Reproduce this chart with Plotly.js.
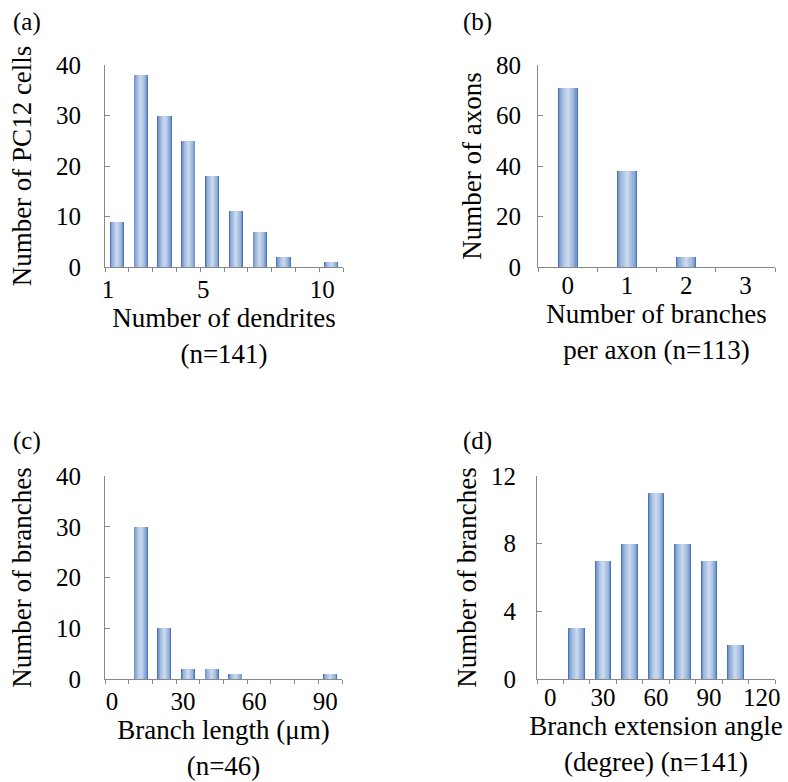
<!DOCTYPE html>
<html>
<head>
<meta charset="utf-8">
<script src="https://cdn.plot.ly/plotly-3.0.1.min.js"></script>
<style>html,body{margin:0;padding:0;background:#fff;}#chart{width:788px;height:782px;}</style>
</head>
<body>
<div id="chart"></div>
<script>
// ---- data ----
const dendrites = [1, 2, 3, 4, 5, 6, 7, 8, 9, 10];
const dendriteCounts = [9, 38, 30, 25, 18, 11, 7, 2, 0, 1];
const dendriteTicks = [1, 5, 10];

const branchesPerAxon = [0, 1, 2, 3];
const axonCounts = [71, 38, 4, 0];

const branchLengthBins = [0, 10, 20, 30, 40, 50, 60, 70, 80, 90];
const branchLengthCounts = [0, 30, 10, 2, 2, 1, 0, 0, 0, 1];
const lengthTicks = [0, 30, 60, 90];

const extensionAngles = [0, 15, 30, 45, 60, 75, 90, 105, 120];
const angleCounts = [0, 3, 7, 8, 11, 8, 7, 2, 0];
const angleTicks = [0, 30, 60, 90, 120];

// ---- styling ----
const FONT = 'Liberation Serif, Times New Roman, serif';
const AXC = '#888888';
const DARK = [72, 118, 186], LIGHT = [200, 216, 238];
const NLAYERS = 9;
const TICK = 25, TITLE = 27;

function layerColor(k) {
  const t = Math.sqrt(k / (NLAYERS - 1));
  const c = DARK.map((d, i) => Math.round(d + (LIGHT[i] - d) * t));
  return 'rgb(' + c.join(',') + ')';
}

const traces = [];
function addBars(xs, ys, xa, ya, binW, frac, leftEdge) {
  for (let k = 0; k < NLAYERS; k++) {
    const w = binW * frac * (1 - k / NLAYERS);
    traces.push({
      type: 'bar', x: xs, y: ys, xaxis: xa, yaxis: ya,
      width: w, offset: leftEdge ? (binW - w) / 2 : -w / 2,
      marker: {color: layerColor(k), line: {width: 0}},
      hoverinfo: 'skip', showlegend: false
    });
  }
}
addBars(dendrites, dendriteCounts, 'x', 'y', 1, 0.6, true);
addBars(branchesPerAxon, axonCounts, 'x2', 'y2', 1, 0.34, false);
addBars(branchLengthBins, branchLengthCounts, 'x3', 'y3', 10, 0.59, true);
addBars(extensionAngles, angleCounts, 'x4', 'y4', 15, 0.62, false);

function xAxis(domain, anchor, range, tickvals, minor0, minorD, majorTicks, title, shift) {
  return {
    domain: domain, anchor: anchor, range: range, fixedrange: true,
    showline: true, linecolor: AXC, linewidth: 1, showgrid: false, zeroline: false,
    tickmode: 'array', tickvals: tickvals, ticktext: tickvals.map(String),
    ticks: majorTicks ? 'outside' : '', ticklen: 4, tickcolor: AXC, tickwidth: 1,
    ticklabelshift: shift || 0, ticklabelstandoff: -4,
    minor: {ticks: 'outside', ticklen: 4, tickcolor: AXC, tickwidth: 1, tickmode: 'linear', tick0: minor0, dtick: minorD, showgrid: false},
    tickfont: {family: FONT, size: TICK, color: '#000'},
    title: {text: title, font: {family: FONT, size: TITLE, color: '#000'}, standoff: 6}
  };
}
function yAxis(domain, anchor, range, dtick, title, labelOff, standoff) {
  return {
    domain: domain, anchor: anchor, range: range, fixedrange: true,
    showline: true, linecolor: AXC, linewidth: 1, showgrid: false, zeroline: false,
    tickmode: 'linear', tick0: 0, dtick: dtick,
    ticks: 'inside', ticklen: 5, tickcolor: AXC, tickwidth: 1,
    ticklabelstandoff: labelOff,
    tickfont: {family: FONT, size: TICK, color: '#000'},
    title: {text: title, font: {family: FONT, size: TITLE, color: '#000'}, standoff: standoff}
  };
}

const W = 788, H = 782;
const topRow = [1 - 267 / H, 1 - 65 / H];
const botRow = [1 - 679 / H, 1 - 476 / H];

const layout = {
  width: W, height: H,
  margin: {l: 0, r: 0, t: 0, b: 0},
  paper_bgcolor: '#fff', plot_bgcolor: '#fff',
  barmode: 'overlay', bargap: 0,
  font: {family: FONT, color: '#000'},
  showlegend: false,
  xaxis: xAxis([105 / W, 343 / W], 'y', [1, 11], dendriteTicks, 1, 1, true, 'Number of dendrites<br>(n=141)', 3),
  yaxis: yAxis(topRow, 'x', [0, 40], 10, 'Number of PC12 cells', 18, 16),
  xaxis2: xAxis([538 / W, 775 / W], 'y2', [-0.5, 3.5], branchesPerAxon, -0.5, 1, false, 'Number of branches<br>per axon (n=113)', 0),
  yaxis2: yAxis(topRow, 'x2', [0, 80], 20, 'Number of axons', 11, 6),
  xaxis3: xAxis([105 / W, 342 / W], 'y3', [0, 100], lengthTicks, 0, 10, true, 'Branch length (μm)<br>(n=46)', 7),
  yaxis3: yAxis(botRow, 'x3', [0, 40], 10, 'Number of branches', 18, 16),
  xaxis4: xAxis([537 / W, 775 / W], 'y4', [-7.5, 127.5], angleTicks, -7.5, 15, false, 'Branch extension angle<br>(degree) (n=141)', 0),
  yaxis4: yAxis(botRow, 'x4', [0, 12], 4, 'Number of branches', 15, 6),
  annotations: [
    {text: '(a)', x: 11 / W, y: 1 - 22 / H},
    {text: '(b)', x: 461 / W, y: 1 - 22 / H},
    {text: '(c)', x: 11 / W, y: 1 - 441 / H},
    {text: '(d)', x: 461 / W, y: 1 - 441 / H}
  ].map(a => Object.assign(a, {xref: 'paper', yref: 'paper', xanchor: 'left', yanchor: 'middle', showarrow: false, font: {family: FONT, size: 25, color: '#000'}}))
};

Plotly.newPlot('chart', traces, layout, {displayModeBar: false, staticPlot: true});
</script>
</body>
</html>
